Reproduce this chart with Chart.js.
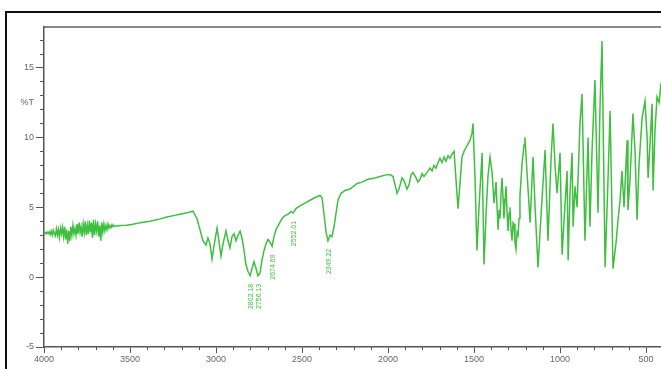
<!doctype html>
<html lang="en">
  <head>
    <meta charset="utf-8">
    <title>IR spectrum</title>
    <style>
      body { margin: 0; background: #fff; width: 661px; height: 369px; overflow: hidden; position: relative; }
      #frame { position: absolute; left: 5px; top: 11px; width: 700px; height: 400px; border: 2px solid #111; }
      #irChart { position: absolute; left: 0; top: 0; }
    </style>
  </head>
  <body>
    <div id="frame"></div>
    <!--The spectrum graph-->
    <canvas id="irChart" width="661" height="369"></canvas>

    <script src="https://cdn.jsdelivr.net/npm/chart.js"></script>
    <script>
      // wavenumber (cm-1) and %T
      const wavenumber = [
        4000, 3994, 3988, 3982, 3976, 3970, 3964, 3958, 3952, 3946, 3940, 3934, 3928, 3922, 3916, 3910,
        3904, 3898, 3892, 3886, 3880, 3874, 3868, 3862, 3856, 3850, 3844, 3838, 3832, 3826, 3820, 3814,
        3808, 3802, 3796, 3790, 3784, 3778, 3772, 3766, 3760, 3754, 3748, 3742, 3736, 3730, 3724, 3718,
        3712, 3706, 3700, 3694, 3688, 3682, 3676, 3670, 3664, 3658, 3652, 3646, 3640, 3634, 3628, 3622,
        3616, 3610, 3604, 3598, 3590, 3580,
        3558, 3520, 3483, 3440, 3384, 3330, 3285, 3240, 3209, 3170, 3134,
        3111, 3093, 3076, 3058, 3047, 3035, 3023, 3012, 2994, 2983, 2971, 2959, 2942, 2930, 2919, 2907,
        2895, 2884, 2872, 2860, 2849, 2837, 2826, 2814, 2802, 2791, 2779, 2767, 2756, 2744, 2733, 2721,
        2709, 2698, 2686, 2674, 2663, 2651, 2634, 2616, 2599, 2581, 2564, 2552, 2535, 2512, 2483, 2453,
        2424, 2395, 2384, 2372, 2360, 2349, 2337, 2326, 2314, 2302, 2291, 2273, 2250, 2221, 2180, 2151,
        2116, 2076, 2047, 2017, 1988, 1971, 1959, 1948, 1936, 1919, 1907, 1890, 1878, 1866, 1855, 1837,
        1826, 1814, 1802, 1791, 1773, 1756, 1744, 1733, 1721, 1709, 1698, 1686, 1674, 1663, 1651, 1640,
        1628, 1616, 1605, 1593, 1581, 1570, 1558, 1541, 1523, 1512, 1506,
        1494, 1483, 1471, 1453, 1442, 1430, 1419, 1407, 1395, 1384,
        1372, 1366, 1360, 1354, 1349, 1343, 1337, 1331, 1326, 1320, 1314, 1308, 1302, 1296, 1291, 1285,
        1279, 1273, 1267, 1262, 1256, 1250, 1244, 1238, 1233,
        1221, 1209, 1204, 1192, 1174, 1157, 1145, 1128, 1110,
        1087, 1070, 1052, 1041, 1029, 1017, 1000, 988, 977, 959, 953, 942, 930, 924, 913, 901,
        884, 872, 855, 837, 826, 814, 797, 779, 768, 756, 738, 721, 709, 692, 674, 663,
        651, 640, 628, 610, 605, 593, 576, 564, 552, 541, 523, 506, 494, 488, 477, 465,
        459, 448, 436, 424, 413
      ];
      const transmittance = [
        3.15, 3.2, 3.1, 3.22, 3.12, 3.25, 3.05, 3.3, 3.0, 3.35, 3.1, 2.95, 3.45, 3.0, 3.4, 2.85,
        3.5, 3.1, 3.55, 2.9, 3.6, 2.7, 3.4, 2.4, 3.3, 2.6, 3.6, 3.0, 3.7, 3.1, 3.5, 3.0,
        3.8, 3.1, 3.9, 3.2, 3.6, 2.9, 3.8, 3.2, 4.0, 3.0, 3.7, 3.1, 4.05, 3.2, 3.9, 2.8,
        4.1, 3.0, 3.8, 3.3, 4.0, 2.9, 3.7, 2.6, 3.9, 3.2, 3.8, 3.3, 3.7, 3.4, 3.8, 3.5,
        3.7, 3.55, 3.75, 3.6, 3.7, 3.65,
        3.7, 3.72, 3.78, 3.9, 4.0, 4.15, 4.3, 4.42, 4.5, 4.6, 4.72,
        4.2, 3.4, 2.6, 2.3, 2.8, 2.4, 1.3, 2.2, 3.5, 2.6, 1.5, 2.4, 3.3, 2.6, 2.1, 2.9,
        3.1, 2.6, 3.0, 3.3, 2.8, 1.9, 0.9, 0.4, 0.1, 0.6, 1.1, 0.6, 0.1, 0.3, 1.2, 1.9,
        2.4, 2.7, 2.5, 2.2, 2.9, 3.4, 3.8, 4.2, 4.4, 4.5, 4.7, 4.6, 4.9, 5.1, 5.3, 5.5,
        5.7, 5.85, 5.7, 4.5, 3.2, 2.6, 3.0, 2.9, 3.6, 4.6, 5.5, 6.0, 6.2, 6.3, 6.7, 6.8,
        7.0, 7.1, 7.2, 7.3, 7.35, 7.2, 6.6, 6.0, 6.3, 7.1, 6.9, 6.3, 6.6, 7.3, 7.5, 7.1,
        6.8, 7.0, 7.4, 7.2, 7.5, 7.8, 7.6, 8.0, 7.8, 8.2, 8.5, 8.2, 8.6, 8.3, 8.7, 8.5,
        8.8, 9.0, 7.0, 4.9, 6.8, 8.6, 9.0, 9.4, 9.8, 10.3, 11.0,
        7.0, 1.9, 5.0, 8.9, 0.9, 4.5, 7.2, 8.6, 7.5, 5.3,
        6.8, 5.0, 3.4, 4.8, 4.2, 6.0, 7.1, 5.6, 4.2, 5.4, 6.5, 4.6, 3.3, 4.6, 5.0, 3.4,
        2.6, 3.9, 3.8, 2.5, 2.0, 3.2, 3.0, 4.2, 5.8,
        8.1, 9.5, 10.0, 7.5, 3.9, 8.6, 5.0, 0.7, 4.5,
        9.1, 2.6, 8.5, 11.0, 8.0, 6.0, 8.9, 1.6, 4.0, 7.6, 1.2, 6.0, 8.9, 3.6, 6.5, 5.0,
        11.0, 13.1, 2.6, 10.0, 3.6, 9.0, 14.1, 4.6, 12.0, 16.9, 0.7, 7.0, 11.9, 0.6, 2.5, 4.1,
        5.5, 7.6, 5.0, 9.8, 4.8, 7.0, 11.7, 9.0, 4.1, 8.0, 11.4, 12.6, 10.0, 7.1, 9.5, 12.4,
        6.2, 10.5, 12.9, 12.5, 13.9
      ];

      const xTicks = [4000, 3500, 3000, 2500, 2000, 1500, 1000, 500];
      const yTicks = [-5, 0, 5, 10, 12.5, 15];

      // marked peaks
      const peakWn = [2802, 2756, 2674, 2552, 2349];
      const peakLabel = ['2802.18', '2756.13', '2674.69', '2552.01', '2349.22'];

      const green = '#3fbf3f';
      const axisColor = '#555';

      const points = wavenumber.map((w, i) => ({x: w, y: transmittance[i]}));

      // small ticks between the labelled ones, and the peak labels
      const extras = {
        id: 'extras',
        afterDraw(chart) {
          const ctx = chart.ctx;
          const xs = chart.scales.x;
          const ys = chart.scales.y;
          ctx.save();
          ctx.strokeStyle = axisColor;
          ctx.lineWidth = 1;
          ctx.beginPath();
          for (let v = -5; v <= 17; v++) {
            if (v % 5 === 0) continue;
            const py = Math.round(ys.getPixelForValue(v)) + 0.5;
            ctx.moveTo(ys.right - 4, py);
            ctx.lineTo(ys.right, py);
          }
          for (let v = 4000; v >= 500; v -= 100) {
            if (v % 500 === 0) continue;
            const px = Math.round(xs.getPixelForValue(v)) + 0.5;
            ctx.moveTo(px, xs.top);
            ctx.lineTo(px, xs.top + 3);
          }
          ctx.stroke();

          ctx.fillStyle = green;
          ctx.font = '7px "Liberation Sans", Arial, sans-serif';
          ctx.textAlign = 'right';
          ctx.textBaseline = 'middle';
          peakWn.forEach((w, i) => {
            const t = transmittance[wavenumber.indexOf(w)];
            const px = xs.getPixelForValue(w) + 1;
            const py = ys.getPixelForValue(t) + 8;
            ctx.save();
            ctx.translate(px, py);
            ctx.rotate(-Math.PI / 2);
            ctx.fillText(peakLabel[i], 0, 0);
            ctx.restore();
          });
          ctx.restore();
        }
      };

      const irChart = new Chart(document.getElementById('irChart'), {
        type: 'line',
        data: {
          datasets: [{
            data: points,
            borderColor: green,
            borderWidth: 1.5,
            pointRadius: 0,
            tension: 0
          }]
        },
        options: {
          responsive: false,
          animation: false,
          devicePixelRatio: 1,
          layout: { padding: 0 },
          plugins: { legend: { display: false }, tooltip: { enabled: false } },
          scales: {
            x: {
              type: 'linear',
              position: 'bottom',
              reverse: true,
              min: 413,
              max: 4000,
              border: { color: axisColor, width: 1.5 },
              grid: { drawOnChartArea: false, tickLength: 6, color: axisColor },
              ticks: {
                autoSkip: false, maxRotation: 0, padding: 1, color: '#666',
                font: { size: 9, family: '"Liberation Sans", Arial, sans-serif' },
                callback: (v) => String(v)
              },
              afterBuildTicks: (scale) => { scale.ticks = xTicks.map(v => ({value: v})); },
              afterFit: (scale) => { scale.height = 22; }
            },
            xTop: {
              type: 'linear',
              position: 'top',
              reverse: true,
              min: 413,
              max: 4000,
              border: { color: '#888', width: 2 },
              grid: { drawOnChartArea: false, drawTicks: false },
              ticks: { display: false },
              afterFit: (scale) => { scale.height = 27; }
            },
            y: {
              min: -5,
              max: 17.9,
              border: { color: axisColor, width: 1.5 },
              grid: {
                drawOnChartArea: false,
                tickLength: 8,
                tickColor: (c) => (c.tick && c.tick.value === 12.5) ? 'rgba(0,0,0,0)' : axisColor
              },
              ticks: {
                padding: 2, color: '#666',
                font: { size: 9, family: '"Liberation Sans", Arial, sans-serif' },
                callback: (v) => v === 12.5 ? '%T' : v
              },
              afterBuildTicks: (scale) => { scale.ticks = yTicks.map(v => ({value: v})); },
              afterFit: (scale) => { scale.width = 44; }
            }
          }
        },
        plugins: [extras]
      });
    </script>
  </body>
</html>
